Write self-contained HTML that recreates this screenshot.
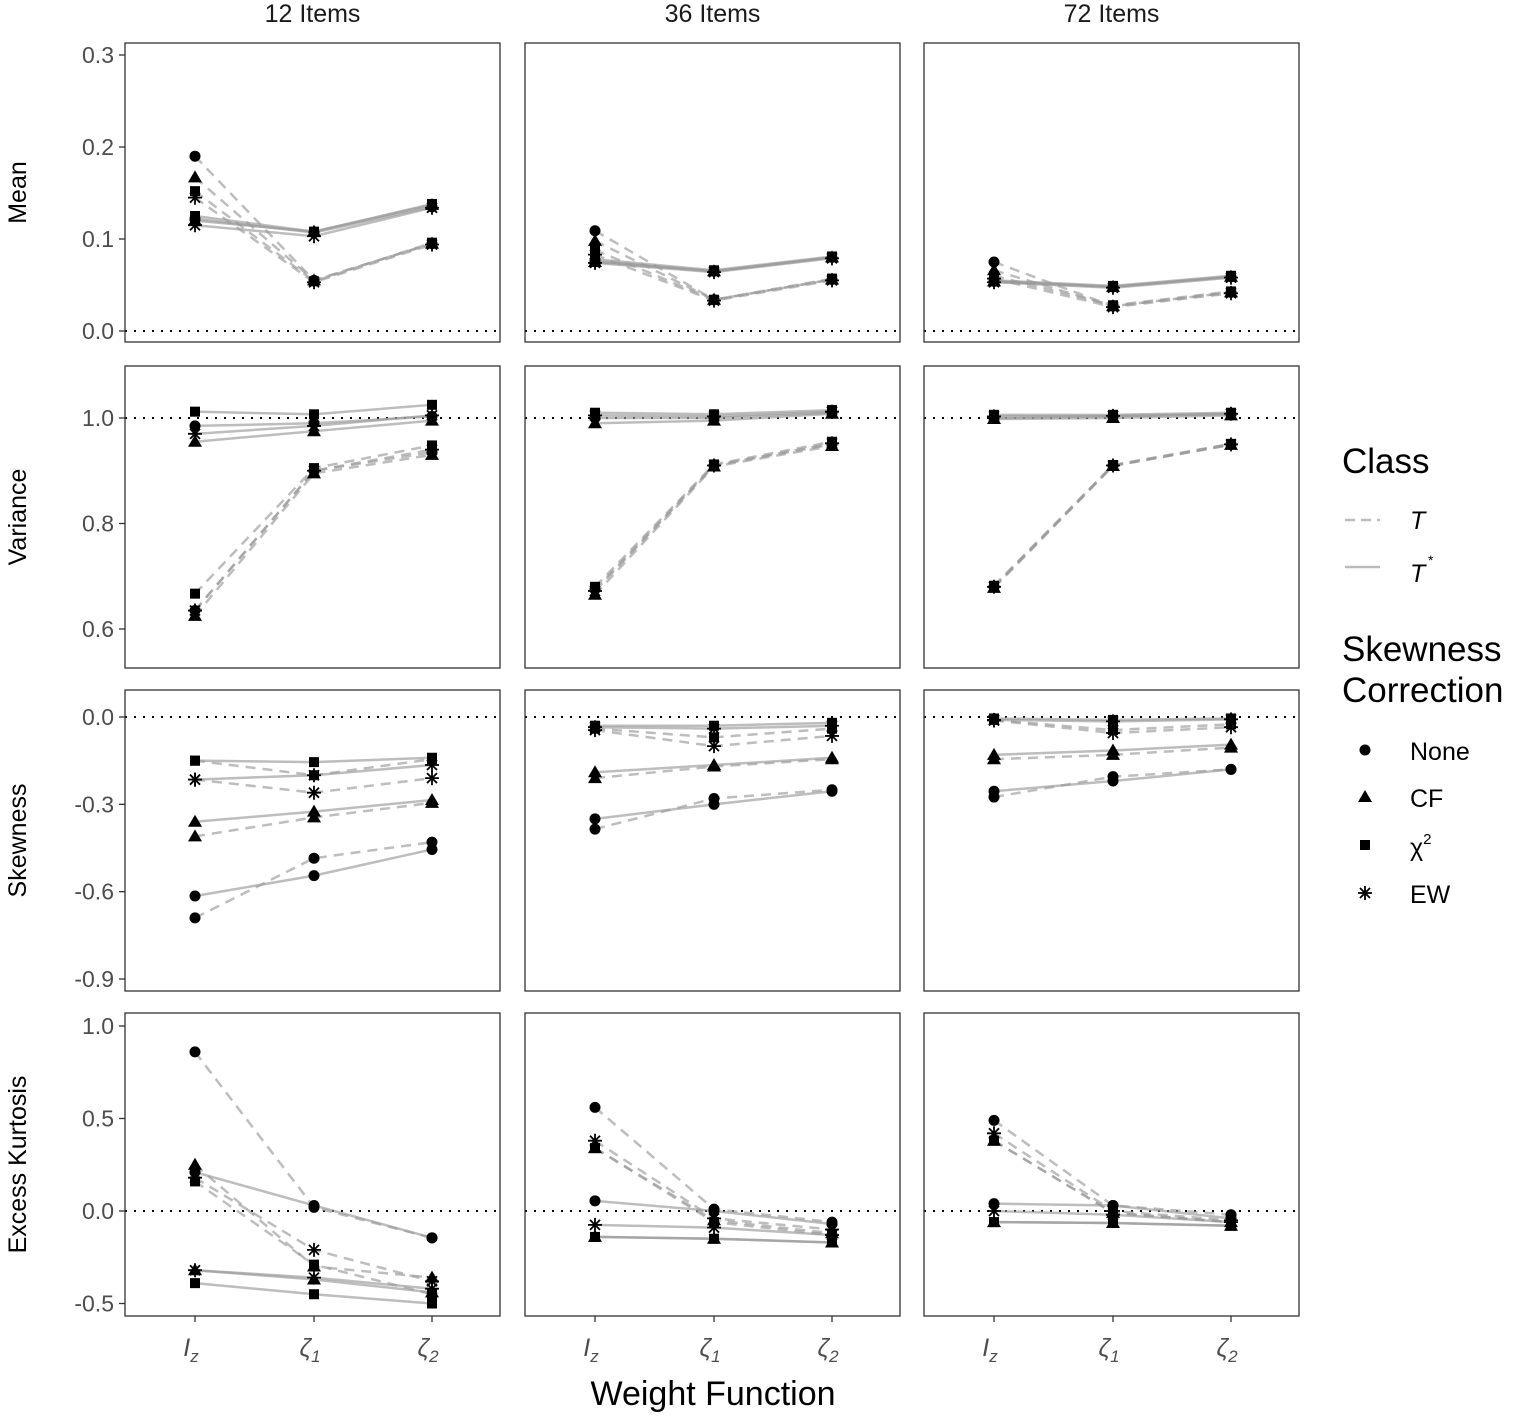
<!DOCTYPE html>
<html><head><meta charset="utf-8">
<style>
body{margin:0;background:#fff;}
svg{display:block;font-family:"Liberation Sans",sans-serif;}
</style></head>
<body>
<svg id="chart" width="1518" height="1417" viewBox="0 0 1518 1417" xmlns="http://www.w3.org/2000/svg">
<g id="panels"></g>
<g id="marks"></g>
<g id="legend">
  <text x="1342" y="473" font-size="35" fill="#000">Class</text>
  <line x1="1345" y1="520" x2="1380" y2="520" stroke="#bbb" stroke-width="2.5" stroke-dasharray="10,6"/>
  <text x="1410" y="529" font-size="25" font-style="italic">T</text>
  <line x1="1345" y1="567" x2="1380" y2="567" stroke="#bbb" stroke-width="2.5"/>
  <text x="1410" y="582" font-size="25" font-style="italic">T</text>
  <text x="1428" y="565" font-size="14">*</text>
  <text x="1342" y="661" font-size="35">Skewness</text>
  <text x="1342" y="702" font-size="35">Correction</text>
  <g id="legendMarks"></g>
  <text x="1410" y="760" font-size="25">None</text>
  <text x="1410" y="807" font-size="25">CF</text>
  <text x="1410" y="856" font-size="25">χ<tspan font-size="15" dy="-12">2</tspan></text>
  <text x="1410" y="903" font-size="25">EW</text>
</g>
<text x="713" y="1405" font-size="34" text-anchor="middle">Weight Function</text>
</svg>
<script>
const columns = ["12 Items", "36 Items", "72 Items"];
const rowNames = ["Mean", "Variance", "Skewness", "Excess Kurtosis"];
const meanTicks = [0.0, 0.1, 0.2, 0.3];
const meanTickLabels = ["0.0", "0.1", "0.2", "0.3"];
const varTicks = [0.6, 0.8, 1.0];
const varTickLabels = ["0.6", "0.8", "1.0"];
const skewTicks = [-0.9, -0.6, -0.3, 0.0];
const skewTickLabels = ["-0.9", "-0.6", "-0.3", "0.0"];
const kurtTicks = [-0.5, 0.0, 0.5, 1.0];
const kurtTickLabels = ["-0.5", "0.0", "0.5", "1.0"];
const refLines = [0, 1, 0, 0];
// each: [column][correction: None, CF, chi2, EW][weight: Iz, z1, z2]
const meanT = [
 [[0.19,0.055,0.095],[0.167,0.055,0.095],[0.152,0.054,0.096],[0.145,0.053,0.094]],
 [[0.109,0.034,0.056],[0.098,0.034,0.056],[0.088,0.034,0.057],[0.083,0.033,0.055]],
 [[0.075,0.027,0.042],[0.066,0.027,0.042],[0.060,0.028,0.043],[0.057,0.026,0.041]]];
const meanTs = [
 [[0.122,0.107,0.135],[0.12,0.108,0.137],[0.125,0.108,0.138],[0.115,0.103,0.134]],
 [[0.076,0.065,0.080],[0.075,0.065,0.080],[0.078,0.066,0.081],[0.074,0.064,0.079]],
 [[0.054,0.048,0.059],[0.054,0.048,0.059],[0.055,0.049,0.060],[0.053,0.047,0.058]]];
const varT = [
 [[0.635,0.90,0.935],[0.625,0.895,0.93],[0.667,0.905,0.948],[0.635,0.90,0.94]],
 [[0.675,0.91,0.95],[0.665,0.908,0.947],[0.68,0.912,0.955],[0.672,0.91,0.952]],
 [[0.68,0.91,0.95],[0.678,0.909,0.949],[0.682,0.911,0.951],[0.68,0.91,0.95]]];
const varTs = [
 [[0.985,0.99,1.003],[0.955,0.975,0.995],[1.012,1.007,1.025],[0.97,0.985,1.005]],
 [[1.0,1.0,1.01],[0.99,0.995,1.008],[1.01,1.007,1.015],[1.005,1.003,1.012]],
 [[1.0,1.003,1.007],[0.998,1.0,1.005],[1.006,1.006,1.01],[1.003,1.004,1.008]]];
const skewT = [
 [[-0.69,-0.485,-0.43],[-0.41,-0.345,-0.295],[-0.15,-0.2,-0.145],[-0.215,-0.26,-0.21]],
 [[-0.385,-0.28,-0.25],[-0.21,-0.17,-0.145],[-0.04,-0.07,-0.04],[-0.045,-0.1,-0.065]],
 [[-0.275,-0.205,-0.18],[-0.145,-0.13,-0.105],[-0.01,-0.045,-0.025],[-0.012,-0.055,-0.035]]];
const skewTs = [
 [[-0.615,-0.545,-0.455],[-0.36,-0.325,-0.285],[-0.15,-0.155,-0.14],[-0.215,-0.2,-0.165]],
 [[-0.35,-0.3,-0.255],[-0.19,-0.165,-0.14],[-0.03,-0.03,-0.02],[-0.035,-0.04,-0.03]],
 [[-0.255,-0.22,-0.18],[-0.13,-0.115,-0.095],[-0.005,-0.01,-0.005],[-0.01,-0.015,-0.008]]];
const kurtT = [
 [[0.86,0.02,-0.145],[0.25,-0.3,-0.36],[0.16,-0.29,-0.45],[0.18,-0.21,-0.38]],
 [[0.56,0.01,-0.06],[0.34,-0.05,-0.12],[0.34,-0.06,-0.13],[0.38,-0.04,-0.1]],
 [[0.49,0.03,-0.02],[0.38,-0.01,-0.06],[0.38,-0.01,-0.06],[0.42,0.0,-0.05]]];
const kurtTs = [
 [[0.21,0.03,-0.145],[-0.32,-0.37,-0.44],[-0.39,-0.45,-0.5],[-0.32,-0.36,-0.42]],
 [[0.055,0.0,-0.07],[-0.14,-0.15,-0.17],[-0.14,-0.15,-0.17],[-0.075,-0.09,-0.13]],
 [[0.04,0.03,-0.04],[-0.06,-0.065,-0.08],[-0.06,-0.065,-0.08],[0.0,-0.02,-0.06]]];

const NS = "http://www.w3.org/2000/svg";
const colX = [125, 525, 924], colW = 375;
const rowY = [43, 366, 690, 1013], rowBot = [342, 668, 991, 1316];
const xOff = [70, 189, 307];
const scales = [[0,331,0.3,55],[1.0,418,0.6,629],[0,717,-0.9,979],[0,1211,1.0,1026]];
const ticks = [meanTicks, varTicks, skewTicks, kurtTicks];
const tickLabels = [meanTickLabels, varTickLabels, skewTickLabels, kurtTickLabels];
const dataT = [meanT, varT, skewT, kurtT];
const dataTs = [meanTs, varTs, skewTs, kurtTs];
const shapes = ["none","cf","chi2","ew"];
function yS(r, v){const s=scales[r];return s[1]+(v-s[0])*(s[3]-s[1])/(s[2]-s[0]);}
function xS(c, i){return colX[c]+xOff[i];}
function mk(tag, attrs, parent){const e=document.createElementNS(NS,tag);for(const k in attrs)e.setAttribute(k,attrs[k]);parent.appendChild(e);return e;}
const panels=document.getElementById('panels'), marks=document.getElementById('marks');

function marker(shape,x,y,parent){
  let e;
  if(shape==="none"){e=mk('circle',{cx:x,cy:y,r:5.5,fill:'#000'},parent);}
  else if(shape==="cf"){e=mk('polygon',{points:`${x},${y-7} ${x-7},${y+5} ${x+7},${y+5}`,fill:'#000'},parent);}
  else if(shape==="chi2"){e=mk('rect',{x:x-5,y:y-5,width:10,height:10,fill:'#000'},parent);}
  else {e=mk('path',{d:`M${x-7},${y}H${x+7}M${x},${y-7}V${y+7}M${x-5},${y-5}L${x+5},${y+5}M${x-5},${y+5}L${x+5},${y-5}`,stroke:'#000','stroke-width':1.8,fill:'none'},parent);}
  return e;
}

for(let c=0;c<3;c++){
  const st=mk('text',{x:colX[c]+colW/2,y:22,'font-size':25,'text-anchor':'middle',fill:'#1a1a1a'},panels);
  st.textContent=columns[c];
  
  
  for(let r=0;r<4;r++){
    const g=mk('g',{},panels);
    
    
    const ry=yS(r,refLines[r]);
    const ref=mk('line',{x1:colX[c],x2:colX[c]+colW,y1:ry,y2:ry,stroke:'#000','stroke-width':2,'stroke-dasharray':'2,7'},g);
    
    
    const rc=mk('rect',{x:colX[c],y:rowY[r],width:colW,height:rowBot[r]-rowY[r],fill:'none',stroke:'#333','stroke-width':1.3},g);
    
    
    [[dataT[r][c],true],[dataTs[r][c],false]].forEach(([arr,dashed])=>{
      arr.forEach((vals,k)=>{
        const pts=vals.map((v,i)=>xS(c,i)+','+yS(r,v)).join(' ');
        const pl=mk('polyline',{points:pts,fill:'none',stroke:'#999','stroke-opacity':0.65,'stroke-width':2.5},marks);
        if(dashed)pl.setAttribute('stroke-dasharray','10,7');
        
        
      });
    });
    [dataT[r][c],dataTs[r][c]].forEach(arr=>{
      arr.forEach((vals,k)=>{vals.forEach((v,i)=>{
        const m=marker(shapes[k],xS(c,i),yS(r,v),marks);
        
        
      });});
    });
    if(c===0){
      ticks[r].forEach((t,j)=>{
        const y=yS(r,t);
        mk('line',{x1:119,x2:125,y1:y,y2:y,stroke:'#333','stroke-width':1.3},panels);
        const tl=mk('text',{x:114,y:y+8,'font-size':23,'text-anchor':'end',fill:'#4d4d4d'},panels);
        tl.textContent=tickLabels[r][j];
        
        
      });
      const cy=(rowY[r]+rowBot[r])/2;
      const yt=mk('text',{x:0,y:0,'font-size':25,'text-anchor':'middle',transform:`translate(26,${cy}) rotate(-90)`},panels);
      yt.textContent=rowNames[r];
      
      
    }
    if(r===3){
      const labs=[['I','z'],['ζ','1'],['ζ','2']];
      for(let i=0;i<3;i++){
        const x=xS(c,i);
        mk('line',{x1:x,x2:x,y1:1316,y2:1322,stroke:'#333','stroke-width':1.3},panels);
        const t=mk('text',{x:x-4,y:1356,'font-size':25,'text-anchor':'middle',fill:'#4d4d4d','font-style':'italic'},panels);
        t.textContent=labs[i][0];
        const s=mk('tspan',{'font-size':17,dy:6},t);
        s.textContent=labs[i][1];
        
        
      }
    }
  }
}
const lm=document.getElementById('legendMarks');
[[750,'none'],[797,'cf'],[845,'chi2'],[893,'ew']].forEach(([y,s])=>{
  const m=marker(s,1365,y,lm);
  
  
});
</script>
</body></html>
